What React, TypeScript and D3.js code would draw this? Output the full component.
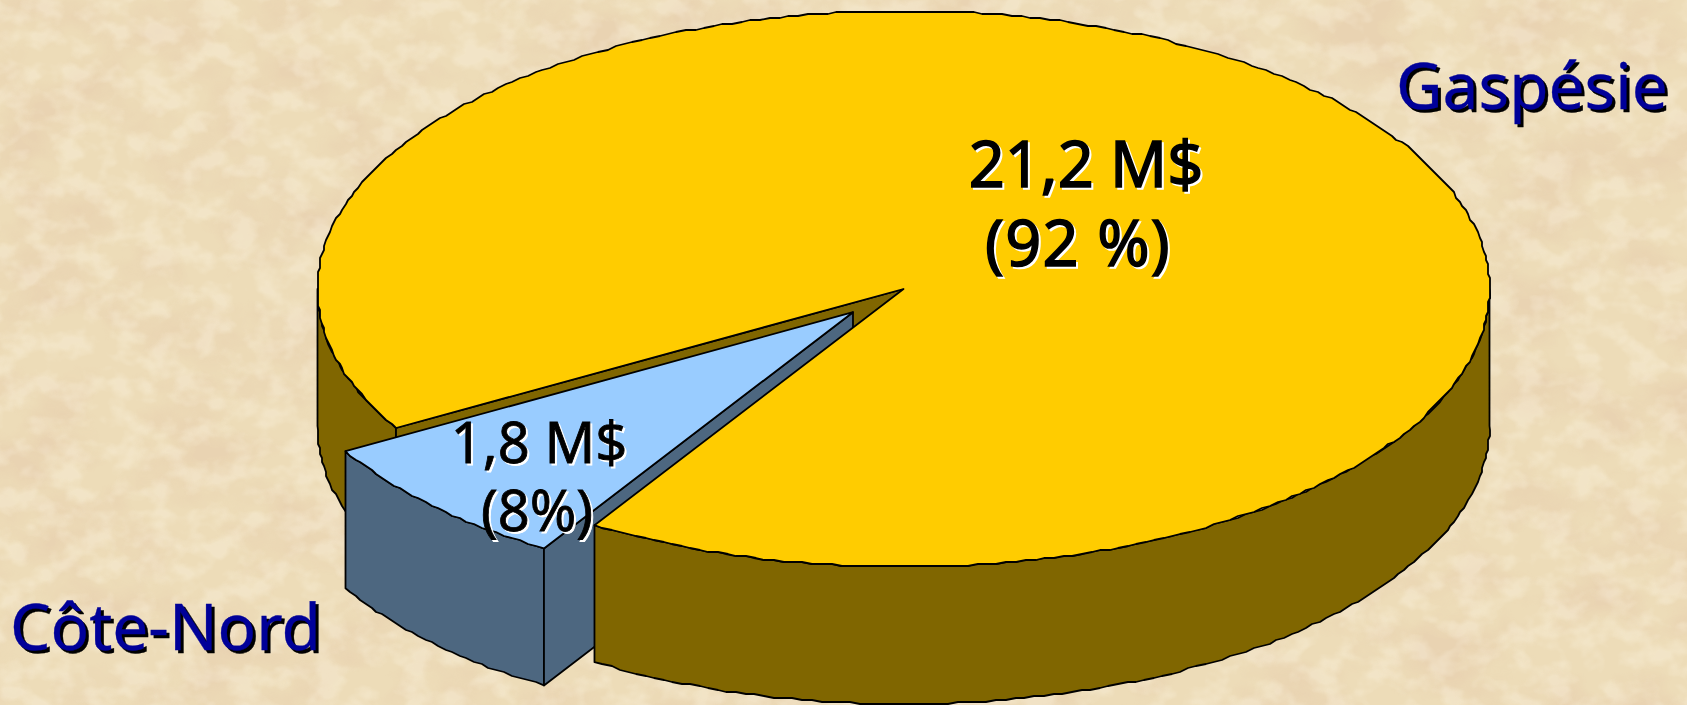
import React from 'react';
import * as d3 from 'd3';

const regions = ['Gaspésie', 'Côte-Nord'];
const amounts = [21.2, 1.8];
const amountLabels = ['21,2 M$', '1,8 M$'];
const shareLabels = ['(92 %)', '(8%)'];

const WIDTH = 1687;
const HEIGHT = 705;
const CX = 903.5;
const CY = 289;
const RX = 586;
const RY = 278;
const DEPTH = 137;
const EXPLODE = 0.12;
const START = (240 * Math.PI) / 180;
const FONT = '"Noto Sans", sans-serif';

const xScale = d3.scaleLinear().domain([-1, 1]).range([CX - RX, CX + RX]);
const yScale = d3.scaleLinear().domain([-1, 1]).range([CY - RY, CY + RY]);

type Pt = [number, number];

// angle is d3's: 0 at 12 o'clock, going clockwise
const project = (r: number, a: number, ox = 0, oy = 0, drop = 0): Pt => [
  xScale(r * Math.sin(a) + ox),
  yScale(-r * Math.cos(a) + oy) + drop,
];

// the original outline is slightly stepped
const snap = ([x, y]: Pt): Pt => [Math.round(x / 2) * 2, Math.round(y / 2) * 2];

const line = d3.line<Pt>();
const sweep = (a0: number, a1: number) => {
  const n = Math.max(2, Math.ceil(Math.abs(a1 - a0) * 60));
  return d3.range(n + 1).map(i => a0 + ((a1 - a0) * i) / n);
};

const rim = (a0: number, a1: number, ox = 0, oy = 0, drop = 0) => {
  const angles = sweep(a0, a1);
  return angles.map((a, i) => {
    const p = project(1, a, ox, oy, drop);
    return i === 0 || i === angles.length - 1 ? p : snap(p);
  });
};

const wall = (a0: number, a1: number, ox = 0, oy = 0) =>
  line([...rim(a0, a1, ox, oy), ...rim(a1, a0, ox, oy, DEPTH)]) + 'Z';

const sector = (a0: number, a1: number, ox = 0, oy = 0) =>
  line([project(0, 0, ox, oy), ...rim(a0, a1, ox, oy)]) + 'Z';

const cutWall = (a: number, ox = 0, oy = 0) =>
  line([
    project(0, 0, ox, oy),
    project(1, a, ox, oy),
    project(1, a, ox, oy, DEPTH),
    project(0, 0, ox, oy, DEPTH),
  ]) + 'Z';

const ShadowText = ({ x, y, size, fill, shadow, dx, weight = 1.2, spacing = 0, anchor = 'middle', children }: any) => (
  <g fontFamily={FONT} fontSize={size} textAnchor={anchor} letterSpacing={spacing}>
    <text x={x + dx} y={y + dx} fill={shadow} stroke={shadow} strokeWidth={weight}>{children}</text>
    <text x={x} y={y} fill={fill} stroke={fill} strokeWidth={weight}>{children}</text>
  </g>
);

const App = () => {
  const pie = d3.pie<number>().sort(null).startAngle(START).endAngle(START + 2 * Math.PI);
  const [main, slice] = pie(amounts);
  const mid = (slice.startAngle + slice.endAngle) / 2;
  const ox = EXPLODE * Math.sin(mid);
  const oy = -EXPLODE * Math.cos(mid);
  const sStart = slice.startAngle;
  const sEnd = slice.endAngle;

  const stroke = { stroke: '#000', strokeWidth: 1.8, strokeLinejoin: 'round' as const };

  return (
    <svg width={WIDTH} height={HEIGHT} style={{ position: 'fixed', left: 0, top: 0, display: 'block' }}>
      <defs>
        <filter id="paper" x="0" y="0" width="100%" height="100%">
          <feTurbulence type="fractalNoise" baseFrequency="0.012 0.016" numOctaves={4} seed={7} />
          <feColorMatrix
            type="matrix"
            values="0 0 0 0 0.78
                    0 0 0 0 0.58
                    0 0 0 0 0.40
                    3.2 0 0 0 -1.35"
          />
        </filter>
        <filter id="grain" x="0" y="0" width="100%" height="100%">
          <feTurbulence type="fractalNoise" baseFrequency="0.035 0.045" numOctaves={3} seed={23} />
          <feColorMatrix
            type="matrix"
            values="0 0 0 0 1
                    0 0 0 0 0.95
                    0 0 0 0 0.82
                    0 3.5 0 0 -1.5"
          />
        </filter>
      </defs>
      <rect width={WIDTH} height={HEIGHT} fill="#eddcb8" />
      <rect width={WIDTH} height={HEIGHT} filter="url(#paper)" opacity={0.4} />
      <rect width={WIDTH} height={HEIGHT} filter="url(#grain)" opacity={0.3} />

      {/* yellow slice, parts behind the pulled-out wedge */}
      <path d={wall(main.startAngle, 1.5 * Math.PI)} fill="#806600" {...stroke} />
      <path d={cutWall(main.startAngle)} fill="#806600" {...stroke} />

      {/* pulled-out wedge */}
      <path d={wall(sStart, sEnd, ox, oy)} fill="#4d6780" {...stroke} />
      <path d={cutWall(sStart, ox, oy)} fill="#4d6780" {...stroke} />
      <path d={sector(sStart, sEnd, ox, oy)} fill="#99ccff" {...stroke} />

      {/* yellow slice, front */}
      <path d={wall(2.5 * Math.PI, main.endAngle)} fill="#806600" {...stroke} />
      <path d={sector(main.startAngle, main.endAngle)} fill="#ffcc00" {...stroke} />

      <ShadowText x={1086} y={187} size={63} fill="#000" shadow="#fff" dx={2} weight={1.5}>{amountLabels[0]}</ShadowText>
      <ShadowText x={1078} y={266} size={63} fill="#000" shadow="#fff" dx={2} weight={1.5} spacing={1.2}>{shareLabels[0]}</ShadowText>
      <ShadowText x={539} y={463} size={56} fill="#000" shadow="#fff" dx={2} weight={0.8}>{amountLabels[1]}</ShadowText>
      <ShadowText x={537} y={531} size={56} fill="#000" shadow="#fff" dx={2} weight={0.8}>{shareLabels[1]}</ShadowText>
      <ShadowText x={1396} y={109} size={64} fill="#000099" shadow="#000" dx={3} weight={0.3} anchor="start">{regions[0]}</ShadowText>
      <ShadowText x={10} y={650} size={64} fill="#000099" shadow="#000" dx={3} weight={0.3} anchor="start">{regions[1]}</ShadowText>
    </svg>
  );
};

export default App;
